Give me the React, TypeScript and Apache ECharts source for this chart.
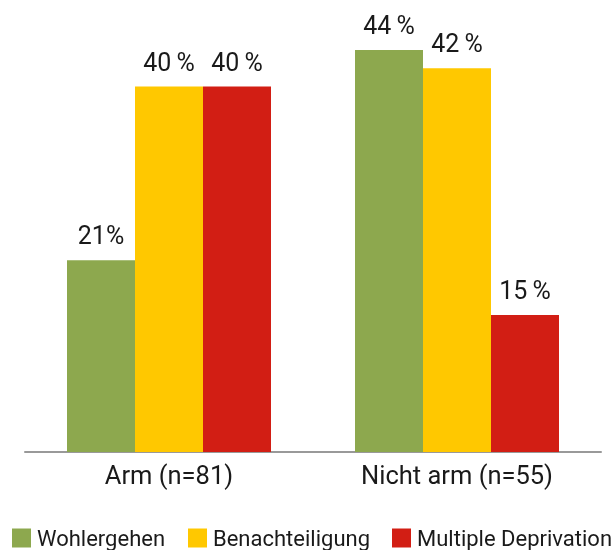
import React, { useEffect, useRef } from "react";
import * as echarts from "echarts";

const categories = ["Arm (n=81)", "Nicht arm (n=55)"];
const seriesNames = ["Wohlergehen", "Benachteiligung", "Multiple Deprivation"];
const wohlergehen = [21, 44];
const benachteiligung = [40, 42];
const multiple = [40, 15];
const labelTexts = [
  ["21%", "44\u2009%"],
  ["40\u2009%", "42\u2009%"],
  ["40\u2009%", "15\u2009%"],
];
const colors = ["#8DA84E", "#FFC800", "#D21E14"];
const legendLefts = [12, 188, 392];

export default function App() {
  const ref = useRef<HTMLDivElement>(null);
  useEffect(() => {
    if (!ref.current) return;
    const chart = echarts.init(ref.current, null, { renderer: "svg" });
    const data = [wohlergehen, benachteiligung, multiple];
    chart.setOption({
      animation: false,
      textStyle: { fontFamily: "Roboto" },
      grid: { left: 25, right: 13, top: 50, bottom: 98 },
      legend: seriesNames.map((name, i) => ({
        left: legendLefts[i],
        top: 527,
        padding: 0,
        itemWidth: 19,
        itemHeight: 19,
        itemGap: 0,
        icon: "rect",
        textStyle: { fontSize: 22, color: "#1a1a1a", fontFamily: "Roboto", padding: [3, 0, 0, 1] },
        data: [name],
      })),
      xAxis: {
        type: "category",
        data: categories,
        axisLine: { lineStyle: { color: "#999", width: 2 } },
        axisTick: { show: false },
        axisLabel: { fontSize: 25.5, color: "#1a1a1a", margin: 10, fontFamily: "Roboto" },
      },
      yAxis: {
        type: "value",
        min: 0,
        max: 44,
        show: false,
        splitLine: { show: false },
      },
      series: seriesNames.map((name, i) => ({
        name,
        type: "bar",
        barWidth: 68,
        barGap: "0%",
        itemStyle: { color: colors[i] },
        data: data[i],
        label: {
          show: true,
          position: "top",
          distance: 12,
          fontSize: 25,
          color: "#1a1a1a",
          fontFamily: "Roboto",
          formatter: (p: any) => labelTexts[i][p.dataIndex],
        },
      })),
    });
    return () => chart.dispose();
  }, []);
  return (
    <div
      ref={ref}
      style={{ position: "fixed", left: 0, top: 0, width: 614, height: 550 }}
    />
  );
}
